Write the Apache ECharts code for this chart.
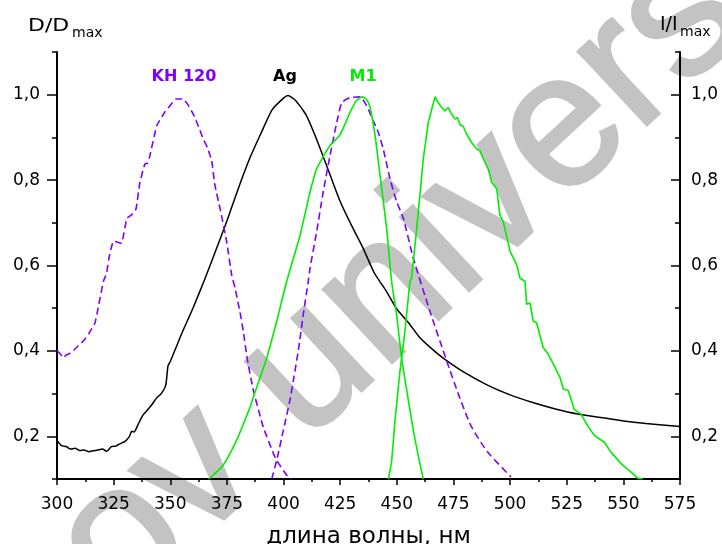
<!DOCTYPE html>
<html>
<head>
<meta charset="utf-8">
<script src="https://cdn.jsdelivr.net/npm/echarts@6/dist/echarts.min.js"></script>
<style>
  html, body { margin: 0; padding: 0; background: #fff; }
  #chart { width: 722px; height: 544px; }
</style>
</head>
<body>
<div id="chart"></div>
<script>
// wavelength, nm / normalised value
const agWave = [300, 302, 304, 306, 308, 310, 312, 314, 316, 318, 320, 322, 324, 326, 328, 330, 332, 333, 334, 336, 338, 340, 342, 344, 346, 348, 349, 350, 355, 360, 365, 370, 375, 380, 385, 390, 395, 400, 402, 405, 410, 415, 420, 425, 430, 435, 440, 445, 450, 455, 460, 465, 470, 480, 490, 500, 510, 520, 530, 540, 550, 560, 575]
const agVal = [0.19, 0.178, 0.176, 0.17, 0.172, 0.167, 0.168, 0.164, 0.166, 0.168, 0.17, 0.165, 0.176, 0.177, 0.183, 0.188, 0.2, 0.212, 0.21, 0.23, 0.25, 0.262, 0.275, 0.29, 0.3, 0.32, 0.365, 0.375, 0.44, 0.5, 0.565, 0.634, 0.704, 0.78, 0.85, 0.909, 0.965, 0.992, 0.998, 0.988, 0.952, 0.89, 0.82, 0.75, 0.694, 0.642, 0.583, 0.543, 0.498, 0.467, 0.432, 0.407, 0.385, 0.349, 0.32, 0.297, 0.279, 0.264, 0.252, 0.244, 0.236, 0.23, 0.223]

const khAbsWave = [300, 301.3, 302.8, 304, 306.5, 308, 311.6, 314, 316.8, 318.5, 320.5, 321.9, 323, 324.9, 326.5, 328.5, 330.8, 333, 334.9, 336.6, 338.8, 340, 341, 344, 347.7, 350, 352.5, 355.6, 358, 360.2, 362.5, 364.6, 366.5, 368.3, 369.7, 372, 374.9, 377.1, 378.6, 380.8, 382.2, 384, 386.7, 391, 395.5, 397, 401.4, 403.5]
const khAbsVal = [0.4, 0.394, 0.384, 0.39, 0.396, 0.405, 0.423, 0.44, 0.466, 0.51, 0.563, 0.582, 0.62, 0.657, 0.655, 0.652, 0.71, 0.719, 0.733, 0.795, 0.838, 0.84, 0.857, 0.927, 0.96, 0.975, 0.99, 0.99, 0.975, 0.954, 0.925, 0.896, 0.875, 0.845, 0.788, 0.733, 0.656, 0.578, 0.547, 0.49, 0.447, 0.38, 0.307, 0.222, 0.16, 0.143, 0.109, 0.1]

const khEmWave = [394.8, 397, 399.9, 402.8, 404.3, 406.5, 408.7, 410.9, 411.7, 414.6, 417.5, 420.5, 423.5, 425.7, 429.3, 433.7, 436.7, 439.6, 441.8, 444, 447, 449.9, 452.9, 457.3, 464.6, 472, 477.1, 482.7, 490.1, 500.4]
const khEmVal = [0.1, 0.144, 0.214, 0.284, 0.33, 0.4, 0.485, 0.563, 0.594, 0.679, 0.772, 0.857, 0.935, 0.981, 0.993, 0.995, 0.974, 0.939, 0.912, 0.873, 0.803, 0.75, 0.71, 0.617, 0.493, 0.377, 0.3, 0.225, 0.163, 0.105]

const m1AbsWave = [367, 373.4, 379.3, 385.2, 386.6, 392.6, 397, 401.4, 407.3, 411.7, 414.6, 420.5, 424.9, 429.3, 432, 434.5, 436.5, 438.2, 440.4, 442.6, 445.5, 447.7, 449.9, 452.1, 454.4, 457.3, 460.2, 461.7]
const m1AbsVal = [0.1, 0.133, 0.191, 0.268, 0.291, 0.384, 0.47, 0.563, 0.671, 0.772, 0.826, 0.881, 0.906, 0.958, 0.985, 0.995, 0.99, 0.97, 0.904, 0.811, 0.687, 0.563, 0.485, 0.384, 0.307, 0.214, 0.136, 0.1]

const m1EmWave = [446.3, 447.7, 449.2, 451.4, 453.6, 455.8, 456.5, 458.8, 461.7, 463.9, 465.4, 466.9, 468.3, 469.8, 471.3, 472.7, 474.2, 475.7, 476.7, 477.9, 479.3, 480.8, 483, 485.3, 486.7, 488.2, 490.4, 491.9, 494.1, 495.5, 497, 500, 502.9, 504.4, 506.6, 507.3, 508.8, 510.2, 511.7, 514.6, 516.9, 519.1, 522, 523.5, 525.7, 528.3, 531.3, 534.2, 537.2, 541.6, 544.5, 549, 553.4, 556.3, 558.5]
const m1EmVal = [0.1, 0.14, 0.237, 0.353, 0.447, 0.563, 0.57, 0.687, 0.85, 0.935, 0.966, 0.995, 0.981, 0.97, 0.962, 0.97, 0.954, 0.943, 0.947, 0.929, 0.926, 0.908, 0.888, 0.873, 0.869, 0.85, 0.826, 0.795, 0.78, 0.718, 0.702, 0.633, 0.602, 0.57, 0.563, 0.509, 0.512, 0.47, 0.466, 0.408, 0.392, 0.369, 0.338, 0.311, 0.307, 0.263, 0.252, 0.225, 0.202, 0.186, 0.163, 0.136, 0.116, 0.102, 0.1]

const majorTicks = [0.2, 0.4, 0.6, 0.8, 1.0]
const minorTicks = [0.1, 0.3, 0.5, 0.7, 0.9, 1.1]

const FONT = 'DejaVu Sans'
const PURPLE = '#8000ff'
const GREEN = '#00ee00'

function pairs(xs, ys) {
  return xs.map((x, i) => [x, ys[i]])
}

function comma(v) {
  return v.toFixed(1).replace('.', ',')
}

function yAxisOf(position, ticks, len, labels, inside) {
  return {
    type: 'value',
    position: position,
    min: 0.1,
    max: 1.1,
    interval: 0.1,
    splitLine: { show: false },
    axisLine: { show: labels, onZero: false, lineStyle: { color: '#000', width: 2 } },
    axisTick: {
      show: true,
      inside: inside,
      length: len,
      customValues: ticks,
      lineStyle: { color: '#000', width: 1.5 }
    },
    axisLabel: {
      show: labels,
      customValues: majorTicks,
      margin: position === 'left' ? 17 : 11,
      color: '#000',
      fontSize: 17,
      fontFamily: FONT,
      formatter: comma
    }
  }
}

const chart = echarts.init(document.getElementById('chart'))

chart.setOption({
  animation: false,
  backgroundColor: '#fff',
  grid: { left: 57, right: 42, top: 52, bottom: 65, containLabel: false, outerBoundsMode: 'none' },
  xAxis: {
    type: 'value',
    min: 300,
    max: 575,
    interval: 25,
    name: 'длина волны, нм',
    nameLocation: 'middle',
    nameGap: 47,
    nameTextStyle: { color: '#000', fontSize: 23, fontFamily: FONT },
    splitLine: { show: false },
    axisLine: { onZero: false, lineStyle: { color: '#000', width: 2 } },
    axisTick: { length: 6, lineStyle: { color: '#000', width: 1.5 } },
    minorTick: { show: true, splitNumber: 2, length: 3, lineStyle: { color: '#000', width: 1.5 } },
    axisLabel: { margin: 17, color: '#000', fontSize: 17, fontFamily: FONT }
  },
  yAxis: [
    yAxisOf('left', majorTicks, 10, true, false),
    yAxisOf('left', minorTicks, 5, false, false),
    yAxisOf('right', majorTicks, 9, true, true),
    yAxisOf('right', minorTicks, 5, false, true)
  ],
  graphic: [
    {
      type: 'text', x: 84, y: 578, rotation: 43 * Math.PI / 180, z: -10, silent: true,
      style: { text: 'ov univers', fontSize: 190, fontFamily: 'Liberation Sans', fill: '#c3c3c3', stroke: '#c3c3c3', lineWidth: 3, align: 'left', verticalAlign: 'middle' }
    },
    { type: 'text', x: 28, y: 26, scaleX: 1.22, style: { text: 'D/D', fontSize: 18, fontFamily: FONT, fill: '#000', verticalAlign: 'middle' } },
    { type: 'text', x: 72, y: 33, style: { text: 'max', fontSize: 14, fontFamily: FONT, fill: '#000', verticalAlign: 'middle' } },
    { type: 'text', x: 660, y: 25, style: { text: 'I/I', fontSize: 19, fontFamily: FONT, fill: '#000', verticalAlign: 'middle' } },
    { type: 'text', x: 680, y: 32, style: { text: 'max', fontSize: 14, fontFamily: FONT, fill: '#000', verticalAlign: 'middle' } },
    { type: 'text', x: 184, y: 77, style: { text: 'KH 120', fontSize: 16, fontWeight: 'bold', fontFamily: FONT, fill: PURPLE, align: 'center', verticalAlign: 'middle' } },
    { type: 'text', x: 285, y: 77, style: { text: 'Ag', fontSize: 16, fontWeight: 'bold', fontFamily: FONT, fill: '#000', align: 'center', verticalAlign: 'middle' } },
    { type: 'text', x: 363, y: 77, style: { text: 'M1', fontSize: 16, fontWeight: 'bold', fontFamily: FONT, fill: GREEN, align: 'center', verticalAlign: 'middle' } }
  ],
  series: [
    {
      name: 'Ag', type: 'line', symbol: 'none', smooth: 0.2,
      lineStyle: { color: '#000', width: 1.5 },
      data: pairs(agWave, agVal)
    },
    {
      name: 'KH 120', type: 'line', symbol: 'none', smooth: 0.1,
      lineStyle: { color: PURPLE, width: 1.6, type: [7, 4] },
      data: pairs(khAbsWave, khAbsVal)
    },
    {
      name: 'KH 120 em', type: 'line', symbol: 'none', smooth: 0.2,
      lineStyle: { color: PURPLE, width: 1.6, type: [7, 4] },
      data: pairs(khEmWave, khEmVal)
    },
    {
      name: 'M1', type: 'line', symbol: 'none', smooth: 0.2,
      lineStyle: { color: GREEN, width: 1.6 },
      data: pairs(m1AbsWave, m1AbsVal)
    },
    {
      name: 'M1 em', type: 'line', symbol: 'none',
      lineStyle: { color: GREEN, width: 1.6 },
      data: pairs(m1EmWave, m1EmVal)
    }
  ]
})
</script>
</body>
</html>
